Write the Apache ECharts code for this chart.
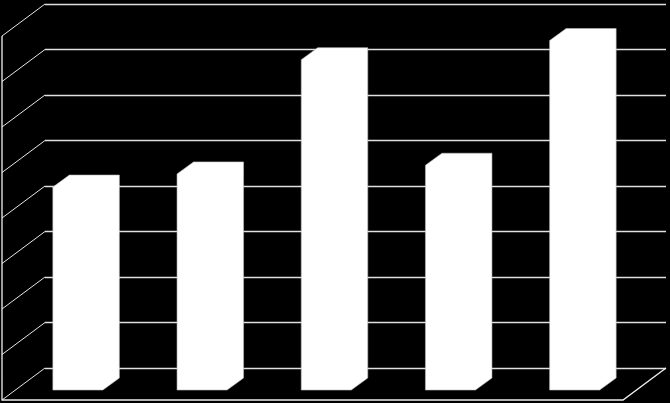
<!DOCTYPE html>
<html><head><meta charset="utf-8">
<style>html,body{margin:0;padding:0;background:#000}#c{width:670px;height:403px}</style>
<script src="https://cdn.jsdelivr.net/npm/echarts@6/dist/echarts.min.js"></script>
</head><body><div id="c"></div>
<script>
const categories = ['1','2','3','4','5'];
const values = [4.46, 4.75, 7.26, 4.94, 7.68];
const tickValues = [0,1,2,3,4,5,6,7,8];
const chart = echarts.init(document.getElementById('c'), null, {renderer:'canvas'});
const DX = 43, DY = 32;        // floor depth of the 3D box
const BDX = 16.5, BDY = 12;    // depth of each bar
const BASE = 10;               // bar back-face base below the wall base
const BW = 50;                 // bar front width
const SHIFT = 21;              // bars sit forward of the back wall
chart.setOption({
  backgroundColor:'#000', animation:false,
  grid:{left:45,right:4,top:4,bottom:35},
  xAxis:{type:'category',data:categories,show:true,axisLine:{show:false},axisTick:{show:false},axisLabel:{show:false},splitLine:{show:false}},
  yAxis:{type:'value',min:0,max:8,interval:1,axisLine:{show:false},axisTick:{show:false},axisLabel:{show:false},
    splitLine:{show:true,lineStyle:{color:'#e0e0e0',width:1.3}}},
  series:[
   {type:'custom',coordinateSystem:'cartesian2d',silent:true,z:1,clip:false,
    data:tickValues.map(v=>[0,v]),
    renderItem(p,api){
      const y=api.coord([0,api.value(1)])[1], L=p.coordSys.x;
      return {type:'line',shape:{x1:L,y1:y,x2:L-DX,y2:y+DY},style:{stroke:'#e6e6e6',lineWidth:1}};
    }},
   {type:'custom',coordinateSystem:'cartesian2d',silent:true,z:2,clip:false,
    data:[[0,0]],
    renderItem(p,api){
      const c=p.coordSys, b=c.y+c.height, L=c.x, R=c.x+c.width;
      return {type:'polyline',shape:{points:[[L-DX,c.y+DY],[L-DX,b+DY],[R-DX,b+DY],[R,b]]},style:{stroke:'#f0f0f0',lineWidth:1.3,fill:null}};
    }},
   {type:'custom',coordinateSystem:'cartesian2d',silent:true,z:3,clip:false,
    data:values.map((v,i)=>[i,v]),
    encode:{x:0,y:1},
    renderItem(p,api){
      const top=api.coord([api.value(0),api.value(1)]);
      const base=api.coord([api.value(0),0]);
      const xr=top[0]-SHIFT+(BW+BDX)/2, xl=xr-BW-BDX;
      const by=base[1]+BASE, ty=top[1]+BASE;
      return {type:'polygon',shape:{points:[
        [xl,by+BDY],[xl+BW,by+BDY],[xr,by],[xr,ty],[xl+BDX,ty],[xl,ty+BDY]
      ]},style:{fill:'#fff',stroke:'#bdbdbd',lineWidth:0.6}};
    }}
  ]
});
</script></body></html>
